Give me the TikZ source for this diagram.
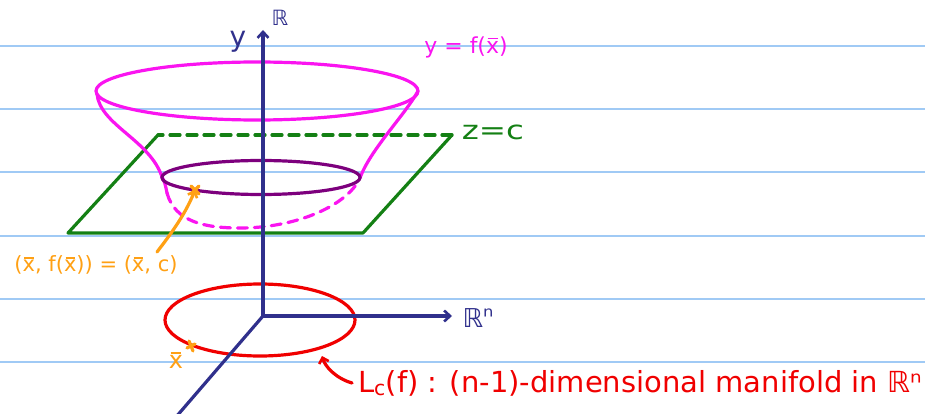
\documentclass[tikz,border=0pt]{standalone}
\usepackage{fontspec}
\setmainfont{DejaVu Sans}
\usetikzlibrary{arrows.meta}
\definecolor{navy}{RGB}{48,48,140}
\definecolor{rulec}{RGB}{160,202,245}
\definecolor{pinkf}{RGB}{250,20,240}
\definecolor{purp}{RGB}{125,0,125}
\definecolor{grn}{RGB}{20,128,20}
\definecolor{orng}{RGB}{255,160,20}
\definecolor{redc}{RGB}{240,0,0}
\newcommand{\xv}{x\kern-0.52em\raisebox{0.62em}{\rule{0.45em}{0.08em}}\kern0.07em}
\begin{document}
\begin{tikzpicture}[x=1pt,y=-1pt,line cap=round,line join=round,
  ruleline/.style={rulec,line width=2.2pt},
  axisline/.style={navy,line width=3.2pt,-{Straight Barb[length=6pt,width=11pt,line width=2.6pt]}},
  pinkline/.style={pinkf,line width=3.2pt},
  purpline/.style={purp,line width=3.2pt},
  grnline/.style={grn,line width=3.2pt},
  orngline/.style={orng,line width=3.2pt},
  redline/.style={redc,line width=3.2pt},
  lbl/.style={inner sep=0pt,outer sep=0pt}]
\useasboundingbox (0,0) rectangle (925,414);
% notebook lines
\foreach \yy in {45.7,109,172.3,235.7,299,362.3}
  \draw[ruleline] (0,\yy) -- (925,\yy);
% green plane
\coordinate (p1) at (68,233);
\coordinate (p2) at (363,233);
\coordinate (p3) at (452,135);
\coordinate (p4) at (158,135);
\draw[grnline] (p4) -- (p1) -- (p2) -- (p3);
\draw[grnline,dash pattern=on 10pt off 7pt] (p3) -- (p4);
% red level set
\draw[redline] (260,320) ellipse [x radius=95, y radius=36];
% pink funnel
\draw[pinkline] (257,91) ellipse [x radius=161, y radius=29];
\draw[pinkline] (97,94) .. controls (100,125) and (150,140) .. (162,177) .. controls (165,183) .. (167,193);
\draw[pinkline] (418,91) .. controls (405,115) and (370,150) .. (360,178);
\draw[pinkline,dash pattern=on 10pt off 7pt] (167,193) .. controls (175,222) and (205,228) .. (240,228) .. controls (290,228) and (340,210) .. (358,182);
% purple level curve
\draw[purpline] (261,177.5) ellipse [x radius=99, y radius=17];
% axes
\coordinate (O) at (263,316);
\coordinate (ytip) at (263,30);
\coordinate (xtip) at (452,316);
\coordinate (ztip) at (176,417);
\draw[axisline] (O) -- (ytip);
\draw[axisline] (O) -- (xtip);
\draw[navy,line width=3.2pt] (O) -- (ztip);
% markers
\coordinate (m1) at (195,190);
\coordinate (m2) at (191,346);
\draw[orngline] ([shift={(-4,-4)}]m1) -- ([shift={(4,4)}]m1) ([shift={(-4,4)}]m1) -- ([shift={(4,-4)}]m1);
\draw[orngline] ([shift={(-2,-5)}]m2) -- ([shift={(2,5)}]m2) ([shift={(-4,2)}]m2) -- ([shift={(4,-2)}]m2);
% labels
\node[lbl,navy,font=\fontsize{28}{30}\selectfont] (ylab) at (238,42) {y};
\node[lbl,navy,font=\fontsize{21}{23}\selectfont] (Rlab) at (280,18) {ℝ};
\node[lbl,navy,font=\fontsize{26}{28}\selectfont] (Rnlab) at (478,318) {ℝ\raisebox{0.1em}{ⁿ}};
\node[lbl,pinkf,font=\fontsize{22}{24}\selectfont] (flab) at (466,47) {y = f(\xv)};
\node[lbl,grn,font=\fontsize{26}{28}\selectfont] (zlab) at (493,132) {\scalebox{1.25}[1]{z=c}};
\node[lbl,orng,font=\fontsize{21}{23}\selectfont] (plab) at (96,265) {(\xv, f(\xv)) = (\xv, c)};
\node[lbl,orng,font=\fontsize{24}{26}\selectfont] (xlab) at (176,360) {\xv};
\node[lbl,redc,font=\fontsize{29}{31}\selectfont,anchor=west] (Llab) at (358,383) {L\textsubscript{c}(f) : (n-1)-dimensional manifold in ℝⁿ};
% arrows
\coordinate (pa) at (157,252);
\draw[orngline,-{Straight Barb[length=5pt,width=10pt,line width=2.6pt]}] (pa) .. controls (170,235) and (185,215) .. (m1);
\coordinate (la) at (352,383);
\coordinate (lb) at (322,356);
\draw[redline,-{Straight Barb[length=5pt,width=10pt,line width=2.6pt]}] (la) .. controls (335,378) and (325,366) .. (lb);
\end{tikzpicture}
\end{document}
